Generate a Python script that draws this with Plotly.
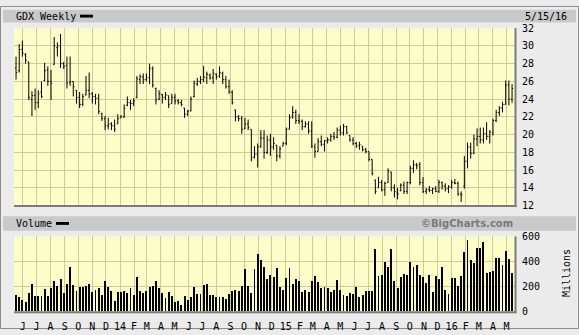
import pandas as pd
import plotly.graph_objects as go

# ---------------- data ----------------
week_end = "2016-05-13"
n_weeks = 157
dates = pd.date_range(end=week_end, periods=n_weeks, freq="7D")

opens = [27.5, 27.2, 29.6, 29.0, 28.2, 24.0, 24.4, 23.6, 24.8, 26.1,
         27.3, 26.0, 27.9, 29.8, 30.0, 28.0, 27.8, 25.9, 26.0, 25.0,
         24.2, 23.4, 24.5, 25.0, 24.6, 24.3, 24.1, 22.4, 21.8, 21.0,
         21.2, 21.0, 21.2, 21.9, 22.0, 23.3, 23.6, 23.5, 24.2, 26.2,
         26.5, 26.2, 26.4, 27.4, 25.2, 24.0, 24.5, 24.2, 24.4, 23.5,
         24.2, 23.8, 23.6, 23.0, 22.3, 22.7, 24.3, 25.7, 26.0, 26.2,
         26.4, 26.7, 26.4, 26.8, 26.6, 26.9, 26.2, 25.4, 24.8, 22.8,
         22.0, 21.8, 20.7, 21.2, 20.6, 17.5, 17.8, 18.7, 19.6, 18.0,
         19.4, 18.6, 18.8, 17.6, 18.7, 19.0, 20.6, 22.0, 22.5, 21.6,
         21.5, 20.9, 21.2, 20.4, 18.6, 18.1, 19.2, 18.9, 19.3, 19.4,
         19.8, 19.7, 20.5, 20.2, 20.9, 19.9, 19.4, 19.0, 18.8, 18.7,
         18.3, 18.1, 17.2, 14.9, 14.0, 14.6, 13.8, 14.6, 15.8, 14.0,
         13.5, 13.7, 14.3, 13.6, 14.6, 16.2, 16.6, 16.6, 14.6, 13.6,
         13.8, 13.7, 13.9, 13.6, 14.6, 14.2, 13.9, 14.1, 14.6, 14.5,
         13.3, 14.2, 17.0, 18.6, 17.9, 19.5, 19.8, 19.4, 20.1, 19.8,
         20.2, 21.6, 22.5, 23.0, 23.4, 25.6, 24.0]
highs = [28.8, 30.2, 30.6, 29.2, 28.2, 24.9, 25.2, 25.0, 26.0, 28.1,
         27.7, 27.3, 31.0, 30.4, 31.35, 28.2, 28.8, 28.8, 26.0, 25.0,
         24.8, 24.6, 26.6, 27.0, 24.8, 24.6, 24.6, 22.45, 22.1, 21.9,
         21.4, 21.7, 22.3, 22.2, 23.4, 24.3, 23.9, 24.1, 26.6, 26.8,
         26.9, 26.9, 28.0, 27.7, 25.3, 25.0, 24.6, 24.8, 24.4, 24.6,
         24.6, 24.0, 23.9, 23.0, 22.8, 24.3, 26.1, 26.4, 26.6, 27.75,
         27.1, 26.9, 27.4, 26.9, 27.7, 27.1, 26.6, 26.2, 25.0, 22.8,
         22.2, 22.1, 21.9, 21.7, 20.6, 18.7, 19.0, 20.5, 20.5, 19.9,
         20.1, 19.7, 18.85, 18.7, 19.2, 20.8, 22.3, 23.2, 22.8, 22.3,
         21.7, 21.5, 21.5, 21.5, 19.0, 19.6, 19.9, 19.4, 19.7, 20.1,
         20.3, 20.8, 21.0, 21.2, 21.0, 19.9, 19.7, 19.2, 19.2, 18.7,
         18.5, 18.1, 17.2, 14.9, 15.25, 14.9, 14.7, 16.2, 15.8, 14.4,
         14.0, 14.5, 14.7, 14.7, 16.5, 17.1, 16.8, 16.9, 15.2, 14.0,
         14.2, 14.0, 14.2, 14.9, 14.7, 14.5, 14.3, 14.9, 15.0, 14.7,
         13.6, 17.6, 19.1, 19.1, 20.0, 20.7, 20.8, 20.8, 21.4, 20.5,
         21.8, 22.8, 23.2, 23.7, 26.1, 26.1, 25.7]
lows = [26.2, 27.0, 28.8, 28.0, 23.9, 22.1, 22.8, 23.0, 24.1, 26.0,
        25.5, 23.9, 27.9, 28.8, 27.5, 27.4, 25.2, 25.5, 24.3, 23.5,
        23.0, 23.2, 24.4, 24.1, 23.5, 23.4, 22.3, 21.55, 20.5, 20.6,
        20.5, 20.3, 21.2, 21.9, 21.9, 23.2, 22.8, 23.2, 24.1, 25.7,
        25.7, 26.0, 25.7, 25.3, 23.4, 23.9, 23.5, 23.9, 23.0, 23.5,
        23.4, 23.4, 23.2, 21.9, 22.1, 22.6, 24.2, 25.5, 25.7, 25.9,
        25.7, 26.2, 25.7, 26.2, 26.4, 25.7, 25.2, 24.6, 23.4, 21.5,
        21.5, 20.1, 20.6, 20.5, 17.0, 17.3, 16.3, 18.5, 17.3, 17.8,
        17.6, 18.3, 17.0, 17.3, 18.7, 18.8, 20.6, 21.8, 21.2, 21.2,
        20.5, 20.8, 20.1, 18.5, 17.4, 18.1, 18.7, 18.1, 19.0, 19.2,
        19.4, 19.6, 19.9, 19.9, 20.1, 19.2, 18.8, 18.5, 18.3, 18.1,
        17.9, 17.0, 15.4, 13.3, 14.0, 13.6, 13.1, 14.6, 13.6, 12.9,
        12.7, 13.6, 13.3, 13.3, 14.4, 15.7, 16.1, 14.3, 13.4, 13.3,
        13.5, 13.3, 13.5, 13.4, 13.8, 13.6, 13.4, 13.9, 14.4, 13.1,
        12.4, 13.9, 16.2, 17.3, 17.8, 18.7, 19.0, 19.0, 19.4, 19.0,
        19.9, 21.4, 22.1, 22.5, 23.4, 23.3, 23.6]
closes = [27.0, 29.6, 29.2, 28.4, 24.2, 24.4, 23.6, 24.6, 24.3, 27.2,
          26.0, 25.8, 30.0, 30.0, 28.0, 27.7, 25.8, 26.0, 25.4, 24.2,
          23.4, 24.3, 25.0, 24.6, 24.3, 24.1, 22.6, 21.8, 21.0, 21.2,
          21.0, 20.6, 21.8, 22.0, 23.0, 23.6, 23.5, 23.8, 26.3, 26.5,
          26.2, 26.4, 27.5, 25.6, 23.9, 24.6, 24.2, 24.5, 23.4, 24.2,
          23.8, 23.6, 23.4, 22.3, 22.6, 24.0, 25.8, 26.0, 26.2, 26.5,
          26.8, 26.4, 26.9, 26.5, 27.0, 26.2, 25.4, 24.8, 23.6, 22.0,
          21.8, 20.6, 21.2, 20.8, 17.4, 17.8, 18.6, 19.6, 18.0, 19.4,
          18.6, 19.0, 17.6, 18.4, 19.0, 20.6, 21.9, 22.5, 21.6, 21.5,
          20.9, 21.2, 20.4, 18.7, 18.1, 19.2, 18.9, 19.3, 19.4, 19.8,
          19.7, 20.5, 20.2, 20.9, 20.2, 19.4, 19.0, 18.7, 18.9, 18.3,
          18.1, 17.2, 15.6, 13.6, 14.6, 13.8, 14.5, 15.9, 14.0, 13.6,
          13.3, 14.3, 13.6, 14.6, 16.2, 16.6, 16.5, 14.6, 13.6, 13.8,
          13.7, 13.9, 13.6, 14.6, 14.2, 13.9, 14.1, 14.6, 14.5, 13.3,
          13.2, 17.0, 18.6, 17.9, 19.5, 19.8, 19.4, 20.1, 19.8, 20.3,
          21.6, 22.5, 23.0, 23.4, 25.6, 24.0, 25.2]
volume_millions = [131, 110, 92, 77, 144, 220, 123, 123, 123, 177,
                   123, 187, 244, 200, 254, 144, 215, 354, 208, 162,
                   192, 192, 200, 215, 154, 169, 185, 131, 238, 192,
                   162, 85, 154, 154, 162, 146, 185, 131, 269, 162,
                   146, 162, 192, 200, 238, 185, 146, 108, 154, 123,
                   77, 85, 46, 123, 92, 115, 192, 138, 138, 208,
                   215, 131, 131, 115, 115, 110, 100, 138, 162, 169,
                   162, 200, 338, 200, 146, 338, 454, 405, 356, 254,
                   285, 269, 346, 195, 169, 264, 346, 215, 254, 238,
                   156, 169, 156, 238, 277, 233, 187, 192, 185, 156,
                   169, 246, 169, 126, 118, 146, 138, 192, 110, 126,
                   164, 164, 164, 500, 277, 285, 395, 349, 500, 238,
                   185, 269, 300, 285, 395, 356, 372, 285, 269, 223,
                   285, 154, 277, 254, 354, 169, 141, 262, 264, 200,
                   277, 472, 572, 410, 385, 508, 508, 554, 303, 315,
                   323, 423, 423, 369, 477, 415, 308]

month_starts = pd.date_range("2013-06-01", "2016-05-01", freq="MS")
month_labels = ["J", "J", "A", "S", "O", "N", "D", "14", "F", "M", "A", "M",
                "J", "J", "A", "S", "O", "N", "D", "15", "F", "M", "A", "M",
                "J", "J", "A", "S", "O", "N", "D", "16", "F", "M", "A", "M"]
price_ticks = [12, 14, 16, 18, 20, 22, 24, 26, 28, 30, 32]
volume_ticks = [0, 200, 400, 600]
x_range = ["2013-05-12 12:00", "2016-05-19 12:00"]

# ---------------- layout helpers ----------------
W, H = 579, 335
def X(px):
    return px / W
def Y(py):
    return 1 - py / H

MONO = "DejaVu Sans Mono"
GRID = "#cccc99"
PLOT_BG = "#fdfdc9"

fig = go.Figure()
fig.add_trace(go.Ohlc(
    x=dates, open=opens, high=highs, low=lows, close=closes,
    increasing=dict(line=dict(color="black", width=1)),
    decreasing=dict(line=dict(color="black", width=1)),
    tickwidth=0.35, xaxis="x", yaxis="y", hoverinfo="skip", showlegend=False))
fig.add_trace(go.Bar(
    x=dates, y=volume_millions, marker=dict(color="black", line=dict(width=0)),
    width=2.0 * 86400000, xaxis="x2", yaxis="y2", showlegend=False,
    hoverinfo="skip"))

common_x = dict(type="date", range=x_range, tickvals=month_starts,
                showgrid=True, gridcolor=GRID, gridwidth=1, zeroline=False,
                showline=False, ticks="", domain=[X(14), X(515)])
fig.update_layout(
    width=W, height=H, margin=dict(l=0, r=0, t=0, b=0),
    paper_bgcolor="#ebebeb", plot_bgcolor=PLOT_BG,
    font=dict(family=MONO, size=10, color="black"),
    bargap=0,
    xaxis=dict(**common_x, anchor="y", showticklabels=False,
               rangeslider=dict(visible=False)),
    xaxis2=dict(**common_x, anchor="y2", ticktext=month_labels,
                showticklabels=True, ticklabelstandoff=7,
                tickfont=dict(family=MONO, size=10)),
    yaxis=dict(domain=[Y(207), Y(23)], range=[12, 32], tickvals=price_ticks,
               side="right", anchor="x", showgrid=True, gridcolor=GRID,
               zeroline=False, showline=False, ticks="",
               ticklabelstandoff=6, tickfont=dict(family=MONO, size=10)),
    yaxis2=dict(domain=[Y(317), Y(239)], range=[0, 600], tickvals=volume_ticks,
                side="right", anchor="x2", showgrid=True, gridcolor=GRID,
                zeroline=False, showline=False, ticks="",
                ticklabelstandoff=6, tickfont=dict(family=MONO, size=10)),
)

shapes = [
    dict(type="rect", xref="paper", yref="paper", x0=X(0.5), x1=X(578.5),
         y0=Y(334.5), y1=Y(0.5), line=dict(color="#8c8c8c", width=1),
         layer="below"),
    dict(type="rect", xref="paper", yref="paper", x0=X(3), x1=X(576),
         y0=Y(17), y1=Y(4), fillcolor="#c9c9c9", line=dict(width=0),
         layer="below"),
    dict(type="rect", xref="paper", yref="paper", x0=X(3), x1=X(576),
         y0=Y(233), y1=Y(218), fillcolor="#c9c9c9", line=dict(width=0),
         layer="below"),
    # legend samples
    dict(type="rect", xref="paper", yref="paper", x0=X(80), x1=X(93),
         y0=Y(12), y1=Y(9), fillcolor="black", line=dict(width=0)),
    dict(type="rect", xref="paper", yref="paper", x0=X(56), x1=X(69),
         y0=Y(227), y1=Y(224), fillcolor="black", line=dict(width=0)),
]
for top, bot in [(23, 207), (239, 317)]:
    shapes.append(dict(type="line", xref="paper", yref="paper",
                       x0=X(14), x1=X(516.5), y0=Y(bot + 0.5), y1=Y(bot + 0.5),
                       line=dict(color="#7a7a7a", width=2)))
    shapes.append(dict(type="line", xref="paper", yref="paper",
                       x0=X(515.5), x1=X(515.5), y0=Y(bot + 1.5), y1=Y(top),
                       line=dict(color="#7a7a7a", width=2)))
fig.update_layout(shapes=shapes)

ann = [
    dict(text="GDX Weekly", x=X(14), y=Y(10.5), xanchor="left", yanchor="middle"),
    dict(text="5/15/16", x=X(523), y=Y(10.5), xanchor="left", yanchor="middle"),
    dict(text="Volume", x=X(14), y=Y(225.5), xanchor="left", yanchor="middle"),
    dict(text="<b>©BigCharts.com</b>", x=X(515), y=Y(225.5), xanchor="right",
         yanchor="middle", font=dict(family="DejaVu Sans", size=10, color="#7a7a7a")),
    dict(text="Millions", x=X(566), y=Y(277), xanchor="center", yanchor="middle",
         textangle=-90),
]
for a in ann:
    a.update(xref="paper", yref="paper", showarrow=False)
    a.setdefault("font", dict(family=MONO, size=10, color="black"))
fig.update_layout(annotations=ann)

fig.write_html("out.html")
